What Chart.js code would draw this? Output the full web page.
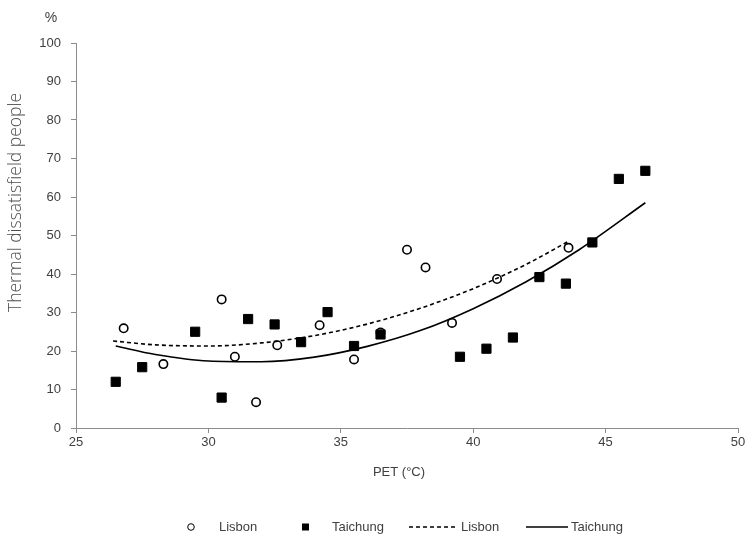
<!DOCTYPE html>
<html lang="en">
<head>
  <meta charset="UTF-8">
  <title>Thermal dissatisfied people vs PET</title>
  <script src="https://cdn.jsdelivr.net/npm/chart.js"></script>
  <style>
    html, body {
      margin: 0;
      padding: 0;
      background: #ffffff;
    }
    .wrap {
      width: 749px;
      height: 535px;
      position: relative;
    }
  </style>
</head>
<body>
  <div class="wrap">
    <canvas id="petChart" width="749" height="535"></canvas>
  </div>

  <script>
    // observed points
    const lisbonX = [26.8, 28.3, 30.5, 31.0, 31.8, 32.6, 34.2, 35.5, 36.5, 37.5, 38.2, 39.2, 40.9, 43.6];
    const lisbonY = [25.9, 16.6, 33.4, 18.5, 6.7, 21.5, 26.7, 17.8, 24.8, 46.3, 41.7, 27.3, 38.7, 46.8];
    const taichungX = [26.5, 27.5, 29.5, 30.5, 31.5, 32.5, 33.5, 34.5, 35.5, 36.5, 39.5, 40.5, 41.5, 42.5, 43.5, 44.5, 45.5, 46.5];
    const taichungY = [12.0, 15.8, 25.0, 7.9, 28.3, 26.9, 22.3, 30.1, 21.3, 24.3, 18.5, 20.6, 23.5, 39.2, 37.5, 48.2, 64.7, 66.8];

    // trend lines
    const lisbonFitX = [26.4, 28, 30, 32, 34, 36, 38, 40, 42, 43.6];
    const lisbonFitY = [22.6, 21.6, 21.3, 22.1, 24.0, 27.0, 31.1, 36.2, 42.5, 48.5];
    const taichungFitX = [26.5, 28, 30, 32, 34, 36, 38, 40, 42, 44, 46.5];
    const taichungFitY = [21.3, 19.1, 17.4, 17.2, 18.4, 21.2, 25.3, 31.0, 38.0, 46.3, 58.5];

    const xTicks = [25, 30, 35, 40, 45, 50];
    const yTicks = [0, 10, 20, 30, 40, 50, 60, 70, 80, 90, 100];

    const legendItems = ["Lisbon", "Taichung", "Lisbon", "Taichung"];

    const toPoints = (xs, ys) => xs.map((x, i) => ({ x: x, y: ys[i] }));

    const tickFont = { family: "'Liberation Sans Narrow', 'Liberation Sans', Arial, sans-serif", size: 13 };
    const textColor = '#404040';
    const axisColor = '#8c8c8c';

    const extras = {
      id: 'extras',
      afterDraw(chart) {
        const ctx = chart.ctx;
        ctx.save();

        // "%" above the y axis
        ctx.fillStyle = textColor;
        ctx.font = "14px 'Liberation Sans', Arial, sans-serif";
        ctx.textAlign = 'center';
        ctx.textBaseline = 'middle';
        ctx.fillText('%', 51, 18);

        // y axis title
        ctx.save();
        ctx.translate(16, 312);
        ctx.rotate(-Math.PI / 2);
        ctx.fillStyle = '#4d4d4d';
        ctx.font = "300 17.5px 'Open Sans', sans-serif";
        ctx.textAlign = 'left';
        ctx.textBaseline = 'middle';
        ctx.fillText('Thermal dissatisfield people', 0, 0);
        ctx.restore();

        // x axis title
        ctx.fillStyle = textColor;
        ctx.font = "13px 'Liberation Sans Narrow', 'Liberation Sans', Arial, sans-serif";
        ctx.textAlign = 'center';
        ctx.fillText('PET (°C)', 399, 472);

        // legend
        const ly = 527;
        ctx.font = "13px 'Liberation Sans', Arial, sans-serif";
        ctx.textAlign = 'left';
        ctx.fillStyle = textColor;
        ctx.strokeStyle = '#000';

        ctx.lineWidth = 1;
        ctx.beginPath();
        ctx.arc(191, ly, 3.3, 0, Math.PI * 2);
        ctx.stroke();
        ctx.fillText(legendItems[0], 219, ly);

        ctx.fillStyle = '#000';
        ctx.fillRect(302, ly - 3.5, 7, 7);
        ctx.fillStyle = textColor;
        ctx.fillText(legendItems[1], 332, ly);

        ctx.lineWidth = 1.5;
        ctx.setLineDash([4, 3]);
        ctx.beginPath();
        ctx.moveTo(409, ly);
        ctx.lineTo(458, ly);
        ctx.stroke();
        ctx.setLineDash([]);
        ctx.fillText(legendItems[2], 461, ly);

        ctx.beginPath();
        ctx.moveTo(526, ly);
        ctx.lineTo(568, ly);
        ctx.stroke();
        ctx.fillText(legendItems[3], 571, ly);

        ctx.restore();
      }
    };

    const ctx = document.getElementById('petChart').getContext('2d');
    new Chart(ctx, {
      type: 'scatter',
      data: {
        datasets: [
          {
            label: 'Lisbon fit',
            type: 'line',
            data: toPoints(lisbonFitX, lisbonFitY),
            borderColor: '#000',
            borderWidth: 1.6,
            borderDash: [4, 3],
            pointRadius: 0,
            cubicInterpolationMode: 'monotone',
            fill: false
          },
          {
            label: 'Taichung fit',
            type: 'line',
            data: toPoints(taichungFitX, taichungFitY),
            borderColor: '#000',
            borderWidth: 1.6,
            pointRadius: 0,
            cubicInterpolationMode: 'monotone',
            fill: false
          },
          {
            label: 'Taichung',
            data: toPoints(taichungX, taichungY),
            pointStyle: 'rect',
            pointRadius: 6.5,
            backgroundColor: '#000',
            borderColor: '#000',
            borderWidth: 1
          },
          {
            label: 'Lisbon',
            data: toPoints(lisbonX, lisbonY),
            pointStyle: 'circle',
            pointRadius: 4.2,
            backgroundColor: '#fff',
            borderColor: '#000',
            borderWidth: 1.6
          }
        ]
      },
      options: {
        responsive: false,
        animation: false,
        layout: { padding: { top: 43, right: 11, bottom: 0, left: 0 } },
        plugins: {
          legend: { display: false },
          tooltip: { enabled: false }
        },
        scales: {
          x: {
            type: 'linear',
            min: 25,
            max: 50,
            afterBuildTicks: (scale) => { scale.ticks = xTicks.map(v => ({ value: v })); },
            afterFit: (scale) => { scale.height = 107; },
            border: { color: axisColor, width: 1 },
            grid: { display: true, drawOnChartArea: false, drawTicks: true, tickLength: 5, color: axisColor },
            ticks: { font: tickFont, color: textColor, padding: 2, maxRotation: 0 }
          },
          y: {
            min: 0,
            max: 100,
            afterBuildTicks: (scale) => { scale.ticks = yTicks.map(v => ({ value: v })); },
            afterFit: (scale) => { scale.width = 76; },
            border: { color: axisColor, width: 1 },
            grid: { display: true, drawOnChartArea: false, drawTicks: true, tickLength: 5, color: axisColor },
            ticks: { font: tickFont, color: textColor, padding: 10 }
          }
        }
      },
      plugins: [extras]
    });
  </script>
</body>
</html>
